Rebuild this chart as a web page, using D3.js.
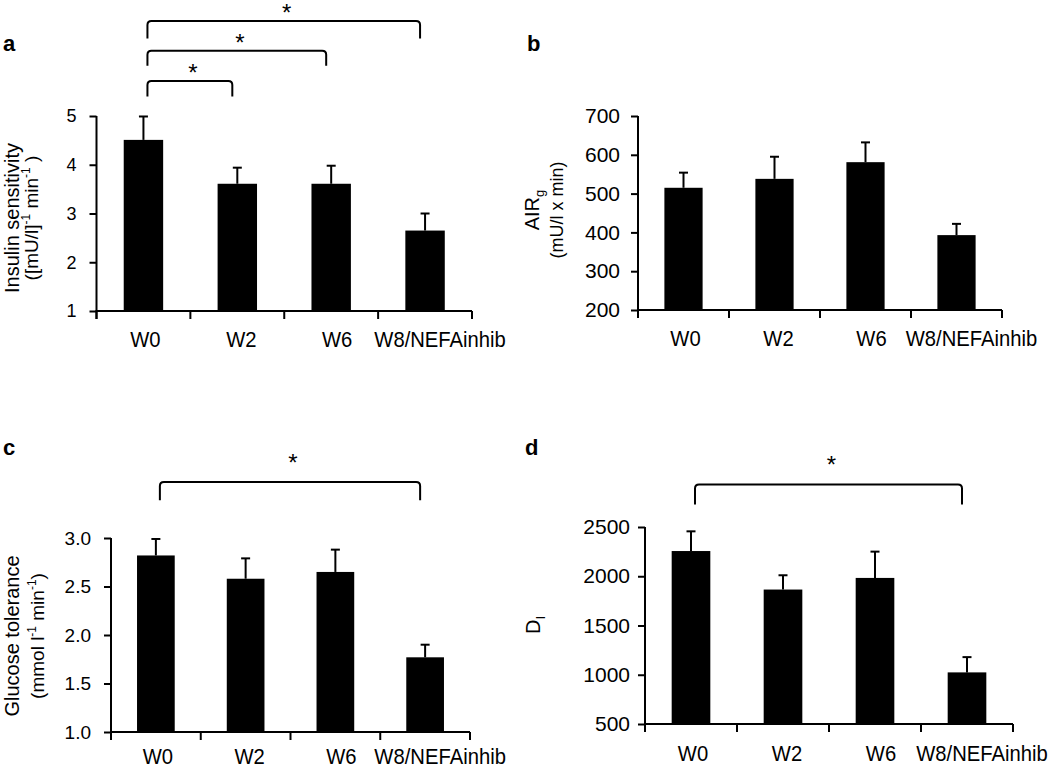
<!DOCTYPE html>
<html>
<head>
<meta charset="utf-8">
<script src="https://cdn.jsdelivr.net/npm/d3@7"></script>
<style>
  html, body { margin: 0; padding: 0; background: #fff; }
  svg { display: block; font-family: "Liberation Sans", Arial, sans-serif; }
</style>
</head>
<body>
<svg id="chart" width="1050" height="769"></svg>
<script>
// ---------------- DATA ----------------
const categories = ["W0", "W2", "W6", "W8/NEFAinhib"];

// a: Insulin sensitivity
const insulinSensitivity = [4.51, 3.61, 3.61, 2.65];
const insulinSensitivitySEM = [0.48, 0.33, 0.37, 0.35];
const ticksA = [1, 2, 3, 4, 5];
const bracketsA = [
  { from: "W0", to: "W2", level: 5.72, leg: 5.40 },
  { from: "W0", to: "W6", level: 6.34, leg: 6.03 },
  { from: "W0", to: "W8/NEFAinhib", level: 6.95, leg: 6.59 }
];

// b: AIRg
const airG = [515, 538, 581, 393];
const airGSEM = [39, 57, 51, 29];
const ticksB = [200, 300, 400, 500, 600, 700];
const bracketsB = [];

// c: Glucose tolerance
const glucoseTolerance = [2.82, 2.58, 2.65, 1.77];
const glucoseToleranceSEM = [0.17, 0.21, 0.23, 0.13];
const ticksC = [1.0, 1.5, 2.0, 2.5, 3.0];
const bracketsC = [
  { from: "W0", to: "W8/NEFAinhib", level: 3.577, leg: 3.39 }
];

// d: Disposition index
const dispositionIndex = [2256, 1865, 1983, 1024];
const dispositionIndexSEM = [200, 145, 267, 155];
const ticksD = [500, 1000, 1500, 2000, 2500];
const bracketsD = [
  { from: "W0", to: "W8/NEFAinhib", level: 2932, leg: 2729 }
];

// ---------------- DRAW ----------------
const svg = d3.select("#chart");
svg.append("rect").attr("width", 1050).attr("height", 769).attr("fill", "#fff");

const FONT_X = 22;
const X_SQUEEZE = 0.92;
const xLabelNudge = [2, 4, 6, 15];

function drawPanel(cfg) {
  const g = svg.append("g");
  const x = d3.scaleBand().domain(categories).range(cfg.xRange).padding(0);
  const y = d3.scaleLinear().domain(cfg.domain).range(cfg.yRange);
  const y0 = cfg.yRange[0];
  const barW = x.bandwidth() * 0.42;

  // bars
  g.selectAll("rect.bar").data(cfg.values).enter().append("rect")
    .attr("x", (d, i) => x(categories[i]) + x.bandwidth() / 2 - barW / 2)
    .attr("y", d => y(d))
    .attr("width", barW)
    .attr("height", d => y0 - y(d))
    .attr("fill", "#000");

  // error bars (upper only)
  const capW = 9;
  cfg.values.forEach((v, i) => {
    const cx = x(categories[i]) + x.bandwidth() / 2;
    g.append("line").attr("x1", cx).attr("x2", cx)
      .attr("y1", y(v)).attr("y2", y(v + cfg.sem[i]))
      .attr("stroke", "#000").attr("stroke-width", 2);
    g.append("line").attr("x1", cx - capW / 2).attr("x2", cx + capW / 2)
      .attr("y1", y(v + cfg.sem[i])).attr("y2", y(v + cfg.sem[i]))
      .attr("stroke", "#000").attr("stroke-width", 2);
  });

  // y axis
  const yAxis = d3.axisLeft(y).tickValues(cfg.ticks).tickFormat(cfg.fmt)
    .tickSize(7).tickSizeOuter(0).tickPadding(cfg.tickPad);
  const ya = g.append("g").attr("transform", `translate(${cfg.xRange[0]},0)`).call(yAxis);
  ya.select(".domain").attr("stroke", "#000").attr("stroke-width", 2)
    .attr("d", `M0,${y0 + 8}V${cfg.yRange[1]}`);
  ya.selectAll(".tick line").attr("stroke", "#000").attr("stroke-width", 2);
  ya.selectAll(".tick text").attr("font-size", cfg.tickFont).attr("fill", "#000")
    .attr("font-family", "Liberation Sans, Arial, sans-serif");

  // x axis: line + boundary ticks
  g.append("line").attr("x1", cfg.xRange[0] - 1).attr("x2", cfg.xRange[1])
    .attr("y1", y0).attr("y2", y0).attr("stroke", "#000").attr("stroke-width", 2);
  const bounds = categories.map(c => x(c)).concat([cfg.xRange[1]]);
  g.selectAll("line.xb").data(bounds).enter().append("line")
    .attr("x1", d => d).attr("x2", d => d)
    .attr("y1", y0).attr("y2", y0 + 8)
    .attr("stroke", "#000").attr("stroke-width", 2);
  const xAxis = d3.axisBottom(x).tickSize(0).tickPadding(cfg.xPad);
  const xa = g.append("g").attr("transform", `translate(0,${y0})`).call(xAxis);
  xa.select(".domain").remove();
  xa.selectAll(".tick text").attr("font-size", FONT_X).attr("fill", "#000")
    .attr("font-family", "Liberation Sans, Arial, sans-serif")
    .attr("transform", `scale(${X_SQUEEZE},1)`)
    .attr("dx", (d, i) => xLabelNudge[i] / X_SQUEEZE);

  // y title
  cfg.titles.forEach(t => {
    const txt = g.append("text")
      .attr("transform", `translate(${t.x},${cfg.titleCY}) rotate(-90)`)
      .attr("text-anchor", "middle")
      .attr("font-size", t.size)
      .attr("fill", "#000");
    t.parts.forEach(p => {
      const ts = txt.append("tspan").text(p.s);
      if (p.sup) ts.attr("font-size", 12).attr("dy", -8);
      if (p.sub) ts.attr("font-size", 13).attr("dy", 5);
      if (p.back) ts.attr("dy", p.back);
    });
  });

  // panel label
  g.append("text").attr("x", cfg.label[1]).attr("y", cfg.label[2])
    .attr("font-size", 22).attr("font-weight", "bold").attr("fill", "#000")
    .text(cfg.label[0]);

  // brackets
  const r = 4;
  cfg.brackets.forEach(b => {
    const x1 = x(b.from) + x.bandwidth() / 2 + 4;
    const x2 = x(b.to) + x.bandwidth() / 2 - 5;
    const yb = y(b.level), yl = y(b.leg);
    g.append("path")
      .attr("d", `M${x1},${yl}L${x1},${yb + r}Q${x1},${yb} ${x1 + r},${yb}L${x2 - r},${yb}Q${x2},${yb} ${x2},${yb + r}L${x2},${yl}`)
      .attr("fill", "none").attr("stroke", "#000").attr("stroke-width", 2);
    g.append("text").attr("x", (x1 + x2) / 2 + 3).attr("y", yb - cfg.starGap)
      .attr("text-anchor", "middle").attr("font-size", 24).attr("fill", "#000")
      .text("*");
  });
}

drawPanel({
  values: insulinSensitivity, sem: insulinSensitivitySEM, ticks: ticksA,
  xRange: [96.5, 472], yRange: [311, 116], domain: [1, 5],
  fmt: d3.format("d"), tickPad: 13, tickFont: 18, xPad: 20,
  titleCY: 218,
  titles: [
    { x: 19, size: 20, parts: [{ s: "Insulin sensitivity" }] },
    { x: 38, size: 19, parts: [{ s: "([mU/l]" }, { s: "-1", sup: true }, { s: " min", back: 8 }, { s: "-1", sup: true }, { s: " )", back: 8 }] }
  ],
  label: ["a", 3, 51], brackets: bracketsA, starGap: 0
});

drawPanel({
  values: airG, sem: airGSEM, ticks: ticksB,
  xRange: [638, 1002], yRange: [310, 116], domain: [200, 700],
  fmt: d3.format("d"), tickPad: 11, tickFont: 21, xPad: 20,
  titleCY: 210,
  titles: [
    { x: 539, size: 20, parts: [{ s: "AIR" }, { s: "g", sub: true }] },
    { x: 563, size: 18, parts: [{ s: "(mU/l x min)" }] }
  ],
  label: ["b", 527, 51], brackets: bracketsB, starGap: 0
});

drawPanel({
  values: glucoseTolerance, sem: glucoseToleranceSEM, ticks: ticksC,
  xRange: [111, 470], yRange: [732, 538], domain: [1, 3],
  fmt: d3.format(".1f"), tickPad: 13, tickFont: 19, xPad: 16,
  titleCY: 636,
  titles: [
    { x: 19, size: 20, parts: [{ s: "Glucose tolerance" }] },
    { x: 44, size: 19, parts: [{ s: "(mmol l" }, { s: "-1", sup: true }, { s: " min", back: 8 }, { s: "-1", sup: true }, { s: ")", back: 8 }] }
  ],
  label: ["c", 3, 455], brackets: bracketsC, starGap: 11
});

drawPanel({
  values: dispositionIndex, sem: dispositionIndexSEM, ticks: ticksD,
  xRange: [645, 1013], yRange: [724, 527], domain: [500, 2500],
  fmt: d3.format("d"), tickPad: 8, tickFont: 21, xPad: 21,
  titleCY: 625,
  titles: [
    { x: 540, size: 20, parts: [{ s: "D" }, { s: "I", sub: true }] }
  ],
  label: ["d", 525, 455], brackets: bracketsD, starGap: 11
});
</script>
</body>
</html>
